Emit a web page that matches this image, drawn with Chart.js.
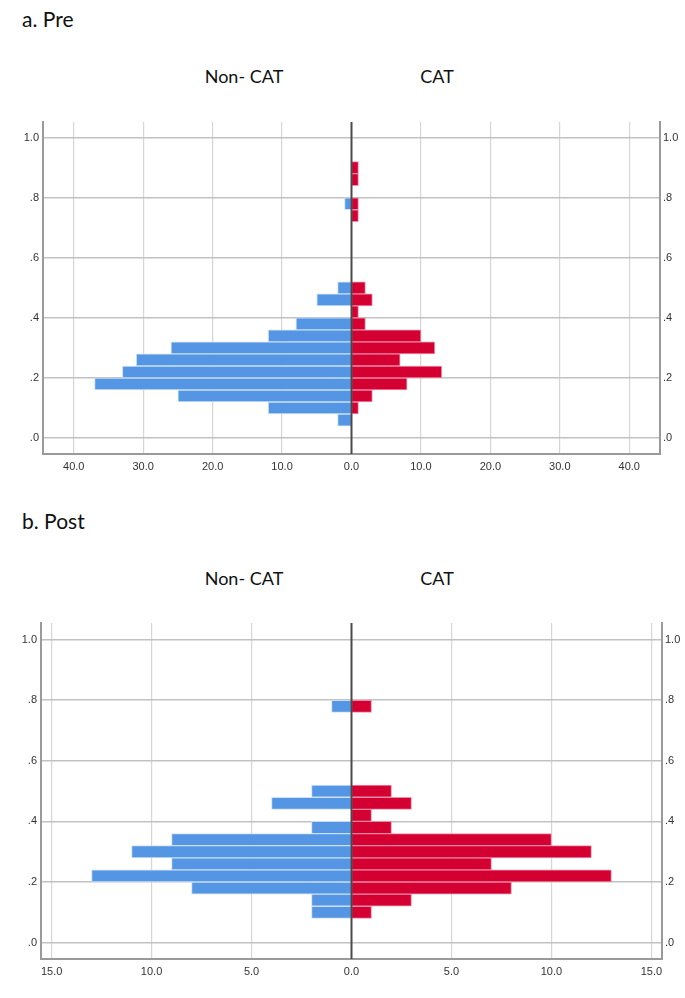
<!DOCTYPE html>
<html>
<head>
<meta charset="utf-8">
<script src="https://cdn.jsdelivr.net/npm/chart.js@4.4.1/dist/chart.umd.min.js"></script>
<style>
  html, body { margin: 0; padding: 0; background: #fff; }
  body { width: 685px; height: 998px; position: relative; overflow: hidden; font-family: Lato, 'Open Sans', sans-serif; color: #111; }
  .title { position: absolute; left: 22px; font-size: 21px; line-height: 1; }
  .grp { position: absolute; font-size: 18px; line-height: 1; transform: translateX(-50%); white-space: nowrap; }
  canvas { position: absolute; left: 0; }
</style>
</head>
<body>
<div class="title" style="top:8px;">a. Pre</div>
<div class="grp" style="left:244px; top:67px;">Non- CAT</div>
<div class="grp" style="left:437px; top:67px;">CAT</div>
<canvas id="c1" width="685" height="370" style="top:110px;"></canvas>

<div class="title" style="top:510px;">b. Post</div>
<div class="grp" style="left:244px; top:569px;">Non- CAT</div>
<div class="grp" style="left:437px; top:569px;">CAT</div>
<canvas id="c2" width="685" height="375" style="top:611px;"></canvas>

<script>
// Bin centres (proportion scale), shared by both panels
const binCenters = [0.06, 0.10, 0.14, 0.18, 0.22, 0.26, 0.30, 0.34, 0.38, 0.42, 0.46,
                    0.50, 0.54, 0.58, 0.62, 0.66, 0.70, 0.74, 0.78, 0.82, 0.86, 0.90];
// a. Pre — frequencies
const preNonCAT = [2, 12, 25, 37, 33, 31, 26, 12, 8, 0, 5, 2, 0, 0, 0, 0, 0, 0, 1, 0, 0, 0];
const preCAT    = [0, 1, 3, 8, 13, 7, 12, 10, 2, 1, 3, 2, 0, 0, 0, 0, 0, 1, 1, 0, 1, 1];
// b. Post — frequencies
const postNonCAT = [0, 2, 2, 8, 13, 9, 11, 9, 2, 0, 4, 2, 0, 0, 0, 0, 0, 0, 1, 0, 0, 0];
const postCAT    = [0, 1, 3, 8, 13, 7, 12, 10, 2, 1, 3, 2, 0, 0, 0, 0, 0, 0, 1, 0, 0, 0];
// Axis tick values
const yTicks = [0, 0.2, 0.4, 0.6, 0.8, 1.0];
const preXTicks = [-40, -30, -20, -10, 0, 10, 20, 30, 40];
const postXTicks = [-15, -10, -5, 0, 5, 10, 15];

const BLUE = '#5596E4', RED = '#D50032';
const tickFont = { family: "'Liberation Sans Narrow', 'Liberation Sans', Arial, sans-serif", size: 11 };

function toPoints(vals, sign) {
  return binCenters.map((c, i) => ({ y: c, x: vals[i] === 0 ? null : sign * vals[i] }));
}

const zeroLine = {
  id: 'zeroLine',
  afterDatasetsDraw(chart) {
    const x = chart.scales.x.getPixelForValue(0);
    const a = chart.chartArea;
    const ctx = chart.ctx;
    ctx.save();
    ctx.strokeStyle = '#4a4a4a';
    ctx.lineWidth = 2;
    ctx.beginPath();
    ctx.moveTo(x, a.top);
    ctx.lineTo(x, a.bottom);
    ctx.stroke();
    ctx.restore();
  }
};

function yFmt(v) { return v === 1 ? '1.0' : v.toFixed(1).replace(/^0/, ''); }

function makeChart(id, nonCat, cat, xTicks, xLim, yMin, yMax, leftW, rightW, xH, padTop) {
  const setY = s => { s.ticks = yTicks.map(v => ({ value: v })); };
  new Chart(document.getElementById(id), {
    type: 'bar',
    data: {
      datasets: [
        { label: 'Non- CAT', data: toPoints(nonCat, -1), backgroundColor: BLUE,
          borderColor: 'rgba(200,222,250,0.9)', borderWidth: 1, grouped: false,
          barPercentage: 1, categoryPercentage: 1 },
        { label: 'CAT', data: toPoints(cat, 1), backgroundColor: RED,
          borderColor: 'rgba(240,130,160,0.9)', borderWidth: 1, grouped: false,
          barPercentage: 1, categoryPercentage: 1 }
      ]
    },
    options: {
      indexAxis: 'y',
      responsive: false,
      animation: false,
      devicePixelRatio: 1,
      layout: { padding: { top: padTop, left: 0, right: 0, bottom: 0 } },
      plugins: { legend: { display: false }, tooltip: { enabled: false } },
      scales: {
        x: {
          type: 'linear', min: -xLim, max: xLim,
          afterBuildTicks: s => { s.ticks = xTicks.map(v => ({ value: v })); },
          afterFit: s => { s.height = xH; },
          grid: { color: c => (c.tick && c.tick.value === 0) ? 'rgba(0,0,0,0)' : '#d6d6d6', lineWidth: 1.2, drawTicks: false },
          border: { display: true, color: '#9a9a9a', width: 2 },
          ticks: { font: tickFont, color: '#333', padding: 6, maxRotation: 0,
                   callback: v => Math.abs(v).toFixed(1) }
        },
        y: {
          type: 'linear', position: 'left', min: yMin, max: yMax, offset: false,
          afterBuildTicks: setY,
          afterFit: s => { s.width = leftW; },
          grid: { offset: false, color: '#c2c2c2', lineWidth: 1.6, drawTicks: false },
          border: { display: true, color: '#9a9a9a', width: 2 },
          ticks: { font: tickFont, color: '#333', padding: 4, callback: yFmt }
        },
        y2: {
          type: 'linear', position: 'right', min: yMin, max: yMax, offset: false,
          afterBuildTicks: setY,
          afterFit: s => { s.width = rightW; },
          grid: { display: false, drawTicks: false },
          border: { display: true, color: '#9a9a9a', width: 2 },
          ticks: { font: tickFont, color: '#333', padding: 3, callback: yFmt }
        }
      }
    },
    plugins: [zeroLine]
  });
}

makeChart('c1', preNonCAT, preCAT, preXTicks, 44.43, -0.053, 1.052, 43, 25, 26, 12);
makeChart('c2', postNonCAT, postCAT, postXTicks, 15.53, -0.054, 1.055, 41, 23, 27, 12);
</script>
</body>
</html>
